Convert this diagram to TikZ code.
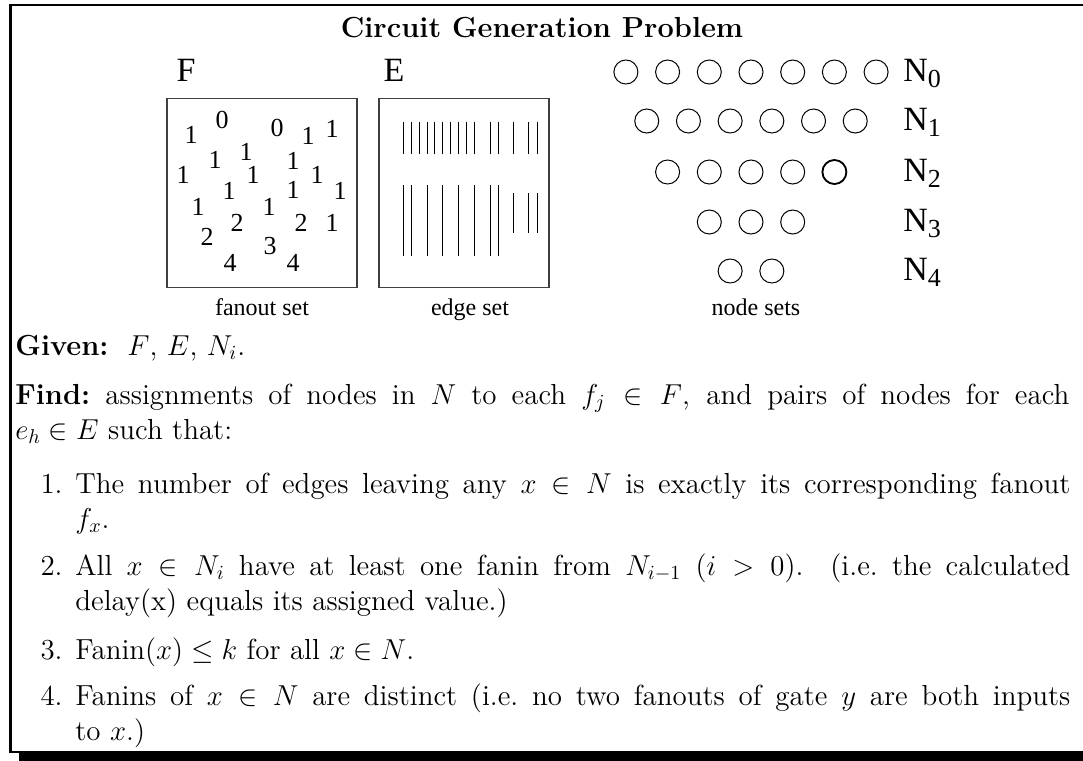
\documentclass[tikz,border=0pt]{standalone}
\usepackage{amsmath,amssymb}
\usepackage{fontspec}
\usepackage{xcolor}
\newfontfamily\figfont{Liberation Serif}
\newcommand{\bodysize}{\fontsize{14.5}{17.5}\selectfont}
\newcommand{\nlab}[1]{N\raisebox{-0.4ex}{\fontsize{13}{13}\selectfont #1}}

\begin{document}
\begin{tikzpicture}[x=0.5pt,y=-0.5pt,
  dot/.style={circle,draw,line width=0.5pt,minimum size=12pt,inner sep=0pt},
  setbox/.style={draw=black!75,line width=0.7pt,minimum height=94.5pt,inner sep=0pt},
  num/.style={font=\figfont\fontsize{13}{13}\selectfont,inner sep=0pt},
  setlab/.style={font=\figfont\fontsize{17}{17}\selectfont,inner sep=0pt,anchor=base},
  setcap/.style={font=\figfont\fontsize{12}{12}\selectfont,inner sep=0pt,anchor=base},
  body/.style={font=\bodysize,inner sep=0pt,anchor=base west,align=justify},
  itemno/.style={font=\bodysize,inner sep=0pt,anchor=base east}]
  \useasboundingbox (0,0) rectangle (1083,761);
  % frame with shadow
  \draw[line width=1.25pt] (1083,5) -- (10.5,5) -- (10.5,752) -- (1083,752); \fill (19,753) rectangle (1083,761);
  \node[font=\bodysize\bfseries,inner sep=0pt,anchor=base] (title) at (542,37) {Circuit Generation Problem};

  % fanout set
  \node[setlab] (flab) at (186,81) {F};
  \node[setbox,minimum width=95pt] (fbox) at (262,193) {};
  \foreach \x/\y/\v [count=\i] in {191/135/1, 222/120/0, 277/128/0, 308/136/1, 332/129/1, 215/160/1, 246/152/1, 293/161/1,
      183/175/1, 253/175/1, 317/175/1, 229/191/1, 293/190/1, 340/191/1, 198/207/1, 269/207/1,
      237/223/2, 301/223/2, 332/223/1, 207/237/2, 270/246/3, 230/263/4, 293/263/4}
    \node[num] (f\i) at (\x,\y) {\v};
  \node[setcap] (fcap) at (262,315) {fanout set};

  % edge set
  \node[setlab] (elab) at (394,81) {E};
  \node[setbox,minimum width=85pt] (ebox) at (464,193) {};
  \foreach \x in {403,411,419,427,434,442,450,458,466,474,490,498,513,528,537} \draw[line width=0.45pt] (\x,122) -- (\x,154);
  \foreach \x in {403,411,427,442,458,474,490,498} \draw[line width=0.45pt] (\x,185) -- (\x,256);
  \foreach \x in {513,528,537} \draw[line width=0.45pt] (\x,193) -- (\x,233);
  \node[setcap] (ecap) at (470,315) {edge set};

  % node sets
  \foreach \r/\n/\y in {0/7/72, 1/6/121, 2/5/172, 3/3/222, 4/2/271} {
    \foreach \k in {1,...,\n} \node[dot] (c\r\k) at ({751+(\k-(\n+1)/2)*41.7},\y) {};
    \node[setlab,anchor=base west] (n\r) at (903,{\y+9}) {\nlab{\r}};
  }
  \draw[line width=0.9pt] (c25.center) circle[radius=6pt];
  \node[setcap] (ncap) at (756,315) {node sets};

  % problem statement
  \node[body,text width=527pt] (given) at (15,355) {\textbf{Given:}\ \ $F$, $E$, $N_i$.};
  \node[body,text width=527pt] (find) at (15,404) {\textbf{Find:}\ assignments of nodes in $N$ to each $f_j\in F$, and pairs of nodes for each\linebreak $e_h\in E$ such that:};
  \node[itemno] (i1) at (63,493) {1.};
  \node[body,text width=497.5pt] (t1) at (75,493) {The number of edges leaving any $x\in N$ is exactly its corresponding fanout\linebreak $f_x$.};
  \node[itemno] (i2) at (63,575) {2.};
  \node[body,text width=497.5pt] (t2) at (75,575) {All $x\in N_i$ have at least one fanin from $N_{i-1}$ $(i>0)$. (i.e.\ the calculated\linebreak delay(x) equals its assigned value.)};
  \node[itemno] (i3) at (63,659) {3.};
  \node[body,text width=497.5pt] (t3) at (75,659) {Fanin$(x)\le k$ for all $x\in N$.};
  \node[itemno] (i4) at (63,705) {4.};
  \node[body,text width=497.5pt] (t4) at (75,705) {Fanins of $x\in N$ are distinct (i.e.\ no two fanouts of gate $y$ are both inputs\linebreak to $x$.)};
\end{tikzpicture}
\end{document}
